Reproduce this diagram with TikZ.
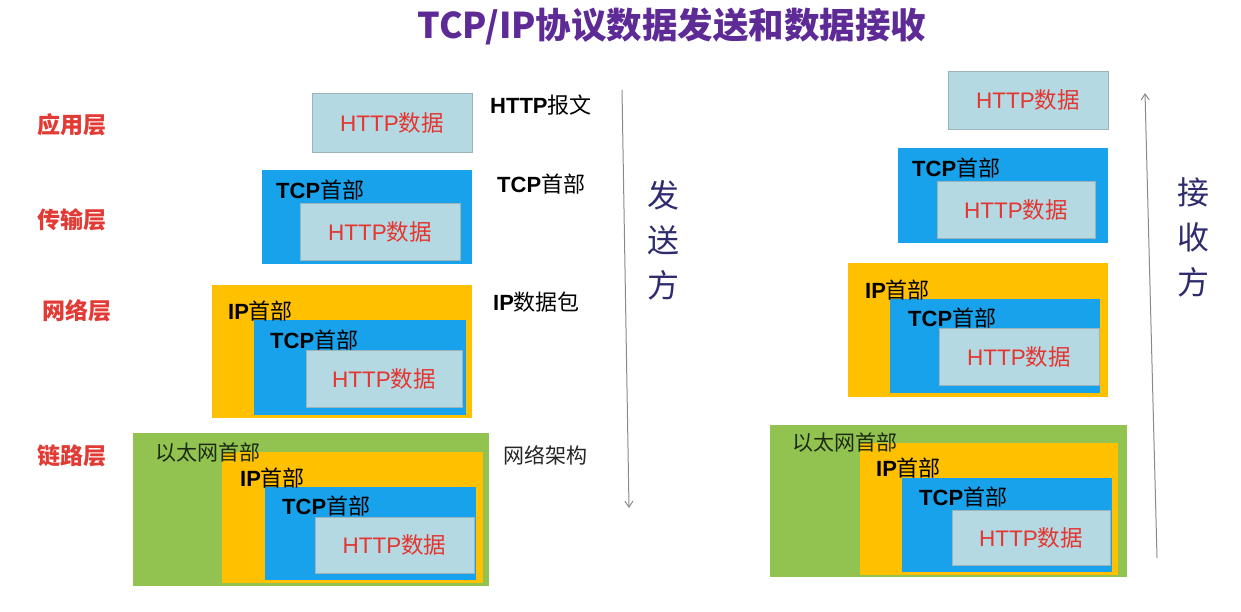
\documentclass[tikz,border=0pt]{standalone}
\usepackage{fontspec}
\setmainfont{Liberation Sans}
\newfontfamily\cjk{Noto Sans CJK SC}
\usetikzlibrary{arrows.meta}
\definecolor{lightb}{HTML}{B5D9E3}
\definecolor{boxgray}{HTML}{9DB3BA}
\definecolor{tcpblue}{HTML}{18A2EC}
\definecolor{iporange}{HTML}{FFC000}
\definecolor{ethgreen}{HTML}{92C351}
\definecolor{layerred}{HTML}{E23A35}
\definecolor{datared}{HTML}{E5352F}
\definecolor{titlepurple}{HTML}{5E2A96}
\definecolor{navy}{HTML}{2E2C6E}
\definecolor{arrowgray}{HTML}{8A8A8A}
\definecolor{ethtext}{HTML}{1C2A12}
\newcommand\rbox[6]{\node[#2,minimum width={(#5-#3)*1pt},minimum height={(#6-#4)*1pt}] (#1) at (#3,#4) {};}
\newcommand\mix[2]{{\bfseries #1}{\cjk #2}}
\begin{document}
\begin{tikzpicture}[x=1pt,y=-1pt,
  box/.style={inner sep=0pt,outer sep=0pt,anchor=north west},
  httpbox/.style={box,fill=lightb,draw=boxgray,line width=0.7pt},
  tcpbox/.style={box,fill=tcpblue},
  ipbox/.style={box,fill=iporange},
  ethbox/.style={box,fill=ethgreen},
  layer/.style={anchor=west,inner sep=0pt,text=layerred,font=\cjk\bfseries\fontsize{23}{26}\selectfont},
  hdr/.style={anchor=west,inner sep=0pt,text=black,font=\fontsize{22}{24}\selectfont},
  ethhdr/.style={anchor=west,inner sep=0pt,text=ethtext,font=\cjk\fontsize{21}{24}\selectfont},
  datatxt/.style={inner sep=0pt,text=datared,font=\fontsize{22.5}{26}\selectfont},
  side/.style={anchor=west,inner sep=0pt,text=black,font=\fontsize{22}{24}\selectfont},
  dirlbl/.style={inner sep=0pt,text=navy,align=center,font=\cjk\fontsize{32}{45}\selectfont},
  flow/.style={draw=arrowgray,line width=1pt,-{Straight Barb[length=6pt,width=8pt]}}
]
\useasboundingbox (0,0) rectangle (1241,611);

% title
\node[inner sep=0pt,text=titlepurple,font=\cjk\bfseries\fontsize{35.5}{40}\selectfont] (title) at (672,26) {TCP/IP协议数据发送和数据接收};

% layer labels
\node[layer] (lapp) at (37,125) {应用层};
\node[layer] (ltrans) at (37,220) {传输层};
\node[layer] (lnet) at (42,311) {网络层};
\node[layer] (llink) at (37,456) {链路层};

% ---------- left (sender) ----------
\rbox{lA}{httpbox}{312}{93}{472}{152}
\node[datatxt] (lAd) at (lA.center) {HTTP{\cjk 数据}};

\rbox{lTt}{tcpbox}{262}{170}{472}{264}
\rbox{lTh}{httpbox}{300}{203}{460}{260}
\node[hdr] (lTtx) at (276,190) {\mix{TCP}{首部}};
\node[datatxt] (lThd) at (lTh.center) {HTTP{\cjk 数据}};

\rbox{lNi}{ipbox}{212}{285}{472}{418}
\rbox{lNt}{tcpbox}{254}{320}{466}{415}
\rbox{lNh}{httpbox}{306}{350}{462}{407}
\node[hdr] (lNix) at (228,311) {\mix{IP}{首部}};
\node[hdr] (lNtx) at (270,340) {\mix{TCP}{首部}};
\node[datatxt] (lNhd) at (lNh.center) {HTTP{\cjk 数据}};

\rbox{lLe}{ethbox}{133}{433}{489}{586}
\rbox{lLi}{ipbox}{222}{452}{483}{583}
\rbox{lLt}{tcpbox}{265}{487}{476}{580}
\rbox{lLh}{httpbox}{315}{517}{474}{573}
\node[ethhdr] (lLex) at (155,453) {以太网首部};
\node[hdr] (lLix) at (240,478) {\mix{IP}{首部}};
\node[hdr] (lLtx) at (282,506) {\mix{TCP}{首部}};
\node[datatxt] (lLhd) at (lLh.center) {HTTP{\cjk 数据}};

% side labels
\node[side] (s1) at (490,105) {\mix{HTTP}{报文}};
\node[side] (s2) at (497,184) {\mix{TCP}{首部}};
\node[side] (s3) at (493,302) {\mix{IP}{数据包}};
\node[side,text=black!85,font=\cjk\fontsize{21}{24}\selectfont] (s4) at (503,455) {网络架构};

% sender arrow
\coordinate (sA) at (622,90);
\coordinate (sB) at (629,508);
\draw[flow] (sA) -- (sB);
\node[dirlbl] (send) at (663,240) {发\\送\\方};

% ---------- right (receiver) ----------
\rbox{rA}{httpbox}{948}{71}{1108}{129}
\node[datatxt] (rAd) at (rA.center) {HTTP{\cjk 数据}};

\rbox{rTt}{tcpbox}{898}{148}{1108}{243}
\rbox{rTh}{httpbox}{937}{181}{1095}{238}
\node[hdr] (rTtx) at (912,168) {\mix{TCP}{首部}};
\node[datatxt] (rThd) at (rTh.center) {HTTP{\cjk 数据}};

\rbox{rNi}{ipbox}{848}{263}{1108}{397}
\rbox{rNt}{tcpbox}{890}{299}{1100}{393}
\rbox{rNh}{httpbox}{939}{328}{1099}{385}
\node[hdr] (rNix) at (865,290) {\mix{IP}{首部}};
\node[hdr] (rNtx) at (908,318) {\mix{TCP}{首部}};
\node[datatxt] (rNhd) at (rNh.center) {HTTP{\cjk 数据}};

\rbox{rLe}{ethbox}{770}{425}{1127}{577}
\rbox{rLi}{ipbox}{860}{443}{1118}{575}
\rbox{rLt}{tcpbox}{902}{478}{1112}{572}
\rbox{rLh}{httpbox}{952}{510}{1110}{565}
\node[ethhdr] (rLex) at (792,443) {以太网首部};
\node[hdr] (rLix) at (876,468) {\mix{IP}{首部}};
\node[hdr] (rLtx) at (919,497) {\mix{TCP}{首部}};
\node[datatxt] (rLhd) at (rLh.center) {HTTP{\cjk 数据}};

% receiver arrow
\coordinate (rA1) at (1157,558);
\coordinate (rB1) at (1145,93);
\draw[flow] (rA1) -- (rB1);
\node[dirlbl] (recv) at (1193,237) {接\\收\\方};
\end{tikzpicture}
\end{document}
